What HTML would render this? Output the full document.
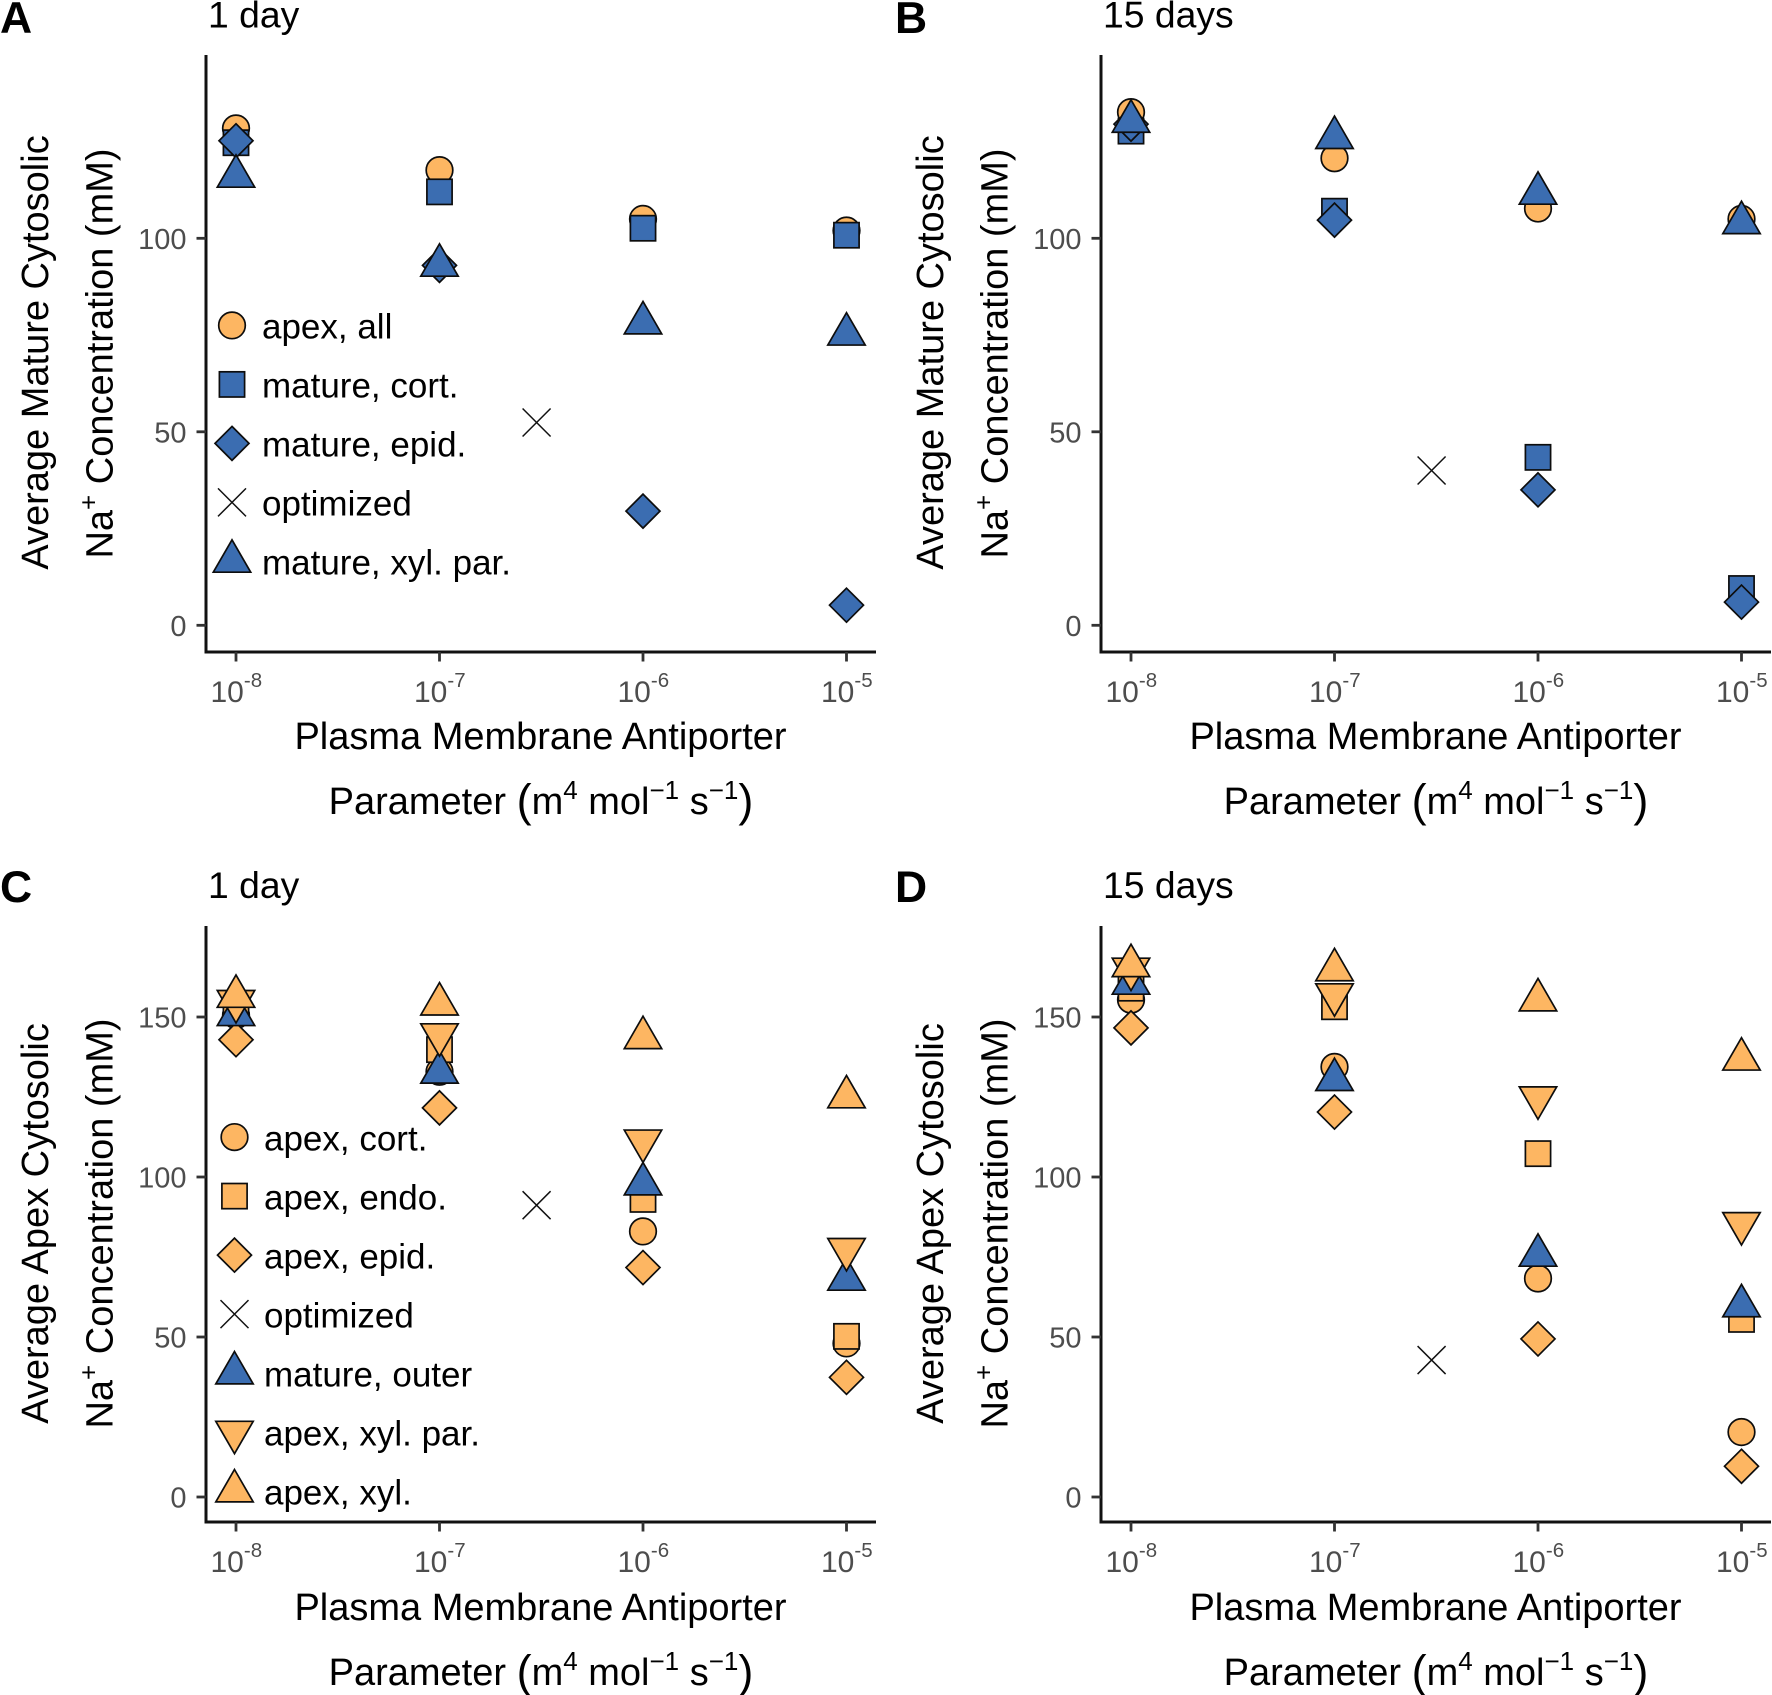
<!DOCTYPE html>
<html lang="en">
<head>
<meta charset="utf-8">
<title>Na+ concentration vs plasma membrane antiporter parameter</title>
<style>
html,body{margin:0;padding:0;background:#fff;width:1772px;height:1695px;overflow:hidden}
svg{display:block;font-family:"Liberation Sans",sans-serif}
.axt{font-size:38px;fill:#000}
.ttl{font-size:37.3px;fill:#000}
.let{font-size:44.5px;font-weight:700;fill:#000}
.paren{font-size:45px}
.sup{font-size:26px}
</style>
</head>
<body>
<svg id="chart" xmlns="http://www.w3.org/2000/svg" width="1772" height="1695" viewBox="0 0 1772 1695">
  <rect width="1772" height="1695" fill="#fff"/>

  <g id="panelA">
    <text class="let" x="0" y="33">A</text>
    <text class="ttl" x="208" y="27.5">1 day</text>
    <text class="axt" text-anchor="middle" transform="translate(48,352.5) rotate(-90)">Average Mature Cytosolic</text>
    <text class="axt" text-anchor="middle" transform="translate(112.5,353.5) rotate(-90)">Na<tspan class="sup" dy="-15">+</tspan><tspan dy="15"> Concentration (mM)</tspan></text>
    <text class="axt" text-anchor="middle" x="540.5" y="749">Plasma Membrane Antiporter</text>
    <text class="axt" text-anchor="middle" x="541" y="814">Parameter <tspan class="paren" dy="2">(</tspan><tspan dy="-2">m</tspan><tspan class="sup" dy="-15">4</tspan><tspan dy="15"> mol</tspan><tspan class="sup" dy="-15">−1</tspan><tspan dy="15"> s</tspan><tspan class="sup" dy="-15">−1</tspan><tspan class="paren" dy="17">)</tspan></text>
  </g>

  <g id="panelB">
    <text class="let" x="895" y="33">B</text>
    <text class="ttl" x="1103" y="27.5">15 days</text>
    <text class="axt" text-anchor="middle" transform="translate(943,352.5) rotate(-90)">Average Mature Cytosolic</text>
    <text class="axt" text-anchor="middle" transform="translate(1007.5,353.5) rotate(-90)">Na<tspan class="sup" dy="-15">+</tspan><tspan dy="15"> Concentration (mM)</tspan></text>
    <text class="axt" text-anchor="middle" x="1435.5" y="749">Plasma Membrane Antiporter</text>
    <text class="axt" text-anchor="middle" x="1436" y="814">Parameter <tspan class="paren" dy="2">(</tspan><tspan dy="-2">m</tspan><tspan class="sup" dy="-15">4</tspan><tspan dy="15"> mol</tspan><tspan class="sup" dy="-15">−1</tspan><tspan dy="15"> s</tspan><tspan class="sup" dy="-15">−1</tspan><tspan class="paren" dy="17">)</tspan></text>
  </g>

  <g id="panelC">
    <text class="let" x="0" y="902">C</text>
    <text class="ttl" x="208" y="898">1 day</text>
    <text class="axt" text-anchor="middle" transform="translate(48,1223.5) rotate(-90)">Average Apex Cytosolic</text>
    <text class="axt" text-anchor="middle" transform="translate(112.5,1223.5) rotate(-90)">Na<tspan class="sup" dy="-15">+</tspan><tspan dy="15"> Concentration (mM)</tspan></text>
    <text class="axt" text-anchor="middle" x="540.5" y="1620">Plasma Membrane Antiporter</text>
    <text class="axt" text-anchor="middle" x="541" y="1685">Parameter <tspan class="paren" dy="2">(</tspan><tspan dy="-2">m</tspan><tspan class="sup" dy="-15">4</tspan><tspan dy="15"> mol</tspan><tspan class="sup" dy="-15">−1</tspan><tspan dy="15"> s</tspan><tspan class="sup" dy="-15">−1</tspan><tspan class="paren" dy="17">)</tspan></text>
  </g>

  <g id="panelD">
    <text class="let" x="895" y="902">D</text>
    <text class="ttl" x="1103" y="898">15 days</text>
    <text class="axt" text-anchor="middle" transform="translate(943,1223.5) rotate(-90)">Average Apex Cytosolic</text>
    <text class="axt" text-anchor="middle" transform="translate(1007.5,1223.5) rotate(-90)">Na<tspan class="sup" dy="-15">+</tspan><tspan dy="15"> Concentration (mM)</tspan></text>
    <text class="axt" text-anchor="middle" x="1435.5" y="1620">Plasma Membrane Antiporter</text>
    <text class="axt" text-anchor="middle" x="1436" y="1685">Parameter <tspan class="paren" dy="2">(</tspan><tspan dy="-2">m</tspan><tspan class="sup" dy="-15">4</tspan><tspan dy="15"> mol</tspan><tspan class="sup" dy="-15">−1</tspan><tspan dy="15"> s</tspan><tspan class="sup" dy="-15">−1</tspan><tspan class="paren" dy="17">)</tspan></text>
  </g>
</svg>

<script>
// ---- shared axis data ----
const xTickExponents = [-8, -7, -6, -5];
const xCategories = [1e-8, 1e-7, 1e-6, 1e-5];
const optimizedParameter = [3e-7];
const yTicksMature = [0, 50, 100];
const yTicksApex = [0, 50, 100, 150];

// ---- panel A: 1 day, mature ----
const aApexAll = [128.4, 117.6, 105, 102];
const aMatureCort = [124.7, 112, 102.6, 100.8];
const aMatureEpid = [125.2, 93, 29.5, 5.2];
const aOptimized = [52.4];
const aMatureXylPar = [116, 93, 78.1, 75.2];

// ---- panel B: 15 days, mature ----
const bApexAll = [132.6, 120.7, 107.7, 105];
const bMatureCort = [127.7, 107, 43.4, 9.5];
const bMatureEpid = [129.5, 104.7, 35, 6];
const bOptimized = [40];
const bMatureXylPar = [130.2, 126, 111.6, 104];

// ---- panel C: 1 day, apex ----
const cApexCort = [150.6, 132.9, 83, 48];
const cApexEndo = [152, 139.8, 93, 50.2];
const cApexEpid = [142.9, 121.6, 71.7, 37.4];
const cOptimized = [91.2];
const cMatureOuter = [150.7, 132.7, 97.8, 68];
const cApexXylPar = [154.9, 144.5, 111.3, 77.4];
const cApexXyl = [156.4, 154, 143.5, 125];

// ---- panel D: 15 days, apex ----
const dApexCort = [155.4, 134.4, 68.3, 20.3];
const dApexEndo = [159, 153.2, 107.3, 55.5];
const dApexEpid = [146.6, 120.3, 49.4, 9.6];
const dOptimized = [42.8];
const dMatureOuter = [160.5, 130.4, 75.5, 59.7];
const dApexXylPar = [165, 157, 124.8, 85.5];
const dApexXyl = [166, 164.7, 155.3, 136.8];

// ---- legend labels ----
const legendLabelsMature = ['apex, all', 'mature, cort.', 'mature, epid.', 'optimized', 'mature, xyl. par.'];
const legendLabelsApex = ['apex, cort.', 'apex, endo.', 'apex, epid.', 'optimized', 'mature, outer', 'apex, xyl. par.', 'apex, xyl.'];

// ---- styling ----
const ORANGE = '#fdb662';
const BLUE = '#3b6db1';
const INK = '#111';
const NS = 'http://www.w3.org/2000/svg';

const matureStyle = [['circle', ORANGE], ['square', BLUE], ['diamond', BLUE], ['cross', 'none'], ['up', BLUE]];
const apexStyle = [['circle', ORANGE], ['square', ORANGE], ['diamond', ORANGE], ['cross', 'none'], ['up', BLUE], ['down', ORANGE], ['up', ORANGE]];

function make(tag, parent, attrs) {
  const el = document.createElementNS(NS, tag);
  for (const k in attrs) el.setAttribute(k, attrs[k]);
  parent.appendChild(el);
  return el;
}

function drawShape(parent, shape, cx, cy, fill, name) {
  let el;
  const common = { stroke: '#0d0d0d', 'stroke-width': 1.7, fill: fill, 'stroke-linejoin': 'miter' };
  if (shape === 'circle') {
    el = make('ellipse', parent, Object.assign({ cx: cx, cy: cy, rx: 13.3, ry: 13.3 }, common));
  } else if (shape === 'square') {
    el = make('rect', parent, Object.assign({ x: cx - 12.6, y: cy - 12.6, width: 25.2, height: 25.2 }, common));
  } else if (shape === 'diamond') {
    el = make('path', parent, Object.assign({ d: 'M' + cx + ' ' + (cy - 17) + 'L' + (cx + 17) + ' ' + cy + 'L' + cx + ' ' + (cy + 17) + 'L' + (cx - 17) + ' ' + cy + 'Z' }, common));
  } else if (shape === 'up') {
    el = make('path', parent, Object.assign({ d: 'M' + cx + ' ' + (cy - 21.6) + 'L' + (cx + 18.7) + ' ' + (cy + 10.8) + 'L' + (cx - 18.7) + ' ' + (cy + 10.8) + 'Z' }, common));
  } else if (shape === 'down') {
    el = make('path', parent, Object.assign({ d: 'M' + cx + ' ' + (cy + 21.6) + 'L' + (cx + 18.7) + ' ' + (cy - 10.8) + 'L' + (cx - 18.7) + ' ' + (cy - 10.8) + 'Z' }, common));
  } else {
    const r = 14;
    el = make('path', parent, { d: 'M' + (cx - r) + ' ' + (cy - r) + 'L' + (cx + r) + ' ' + (cy + r) + 'M' + (cx + r) + ' ' + (cy - r) + 'L' + (cx - r) + ' ' + (cy + r), stroke: '#111', 'stroke-width': 1.5, fill: 'none' });
  }
  
  
  return el;
}

function drawPanel(cfg) {
  const g = document.getElementById(cfg.id);
  const xScale = function (v) { return cfg.left + 30 + (Math.log10(v) + 8) * 203.5; };
  const yScale = function (v) { return cfg.zeroY - v * cfg.pxPerUnit; };

  // axis lines
  const yAxis = make('line', g, { x1: cfg.left, x2: cfg.left, y1: cfg.top, y2: cfg.bottom + 1.5, stroke: INK, 'stroke-width': 3 });
  
  
  const xAxis = make('line', g, { x1: cfg.left - 1.5, x2: cfg.left + 670, y1: cfg.bottom, y2: cfg.bottom, stroke: INK, 'stroke-width': 3 });
  
  

  // y ticks
  cfg.yTicks.forEach(function (t) {
    const y = yScale(t);
    const tick = make('line', g, { x1: cfg.left - 9.5, x2: cfg.left, y1: y, y2: y, stroke: '#333', 'stroke-width': 2.8 });
    
    
    const label = make('text', g, { x: cfg.left - 19.5, y: y + 10.6, 'text-anchor': 'end', 'font-size': 29, fill: '#4d4d4d' });
    label.textContent = String(t);
    
    
  });

  // x ticks
  xTickExponents.forEach(function (e, i) {
    const x = xScale(xCategories[i]);
    const tick = make('line', g, { x1: x, x2: x, y1: cfg.bottom, y2: cfg.bottom + 9.5, stroke: '#333', 'stroke-width': 2.8 });
    
    
    const label = make('text', g, { x: x - 25.5, y: cfg.bottom + 50, 'font-size': 30, fill: '#4d4d4d' });
    
    
    const base = make('tspan', label, {});
    base.textContent = '10';
    const sup = make('tspan', label, { dy: -15, 'font-size': 20.5 });
    sup.textContent = String(e);
  });

  // series, in legend order
  cfg.series.forEach(function (s) {
    const style = cfg.styles[s.styleIndex];
    s.values.forEach(function (v, i) {
      const param = s.params[i];
      drawShape(g, style[0], xScale(param), yScale(v), style[1], s.name);
    });
  });

  // legend
  if (cfg.legendLabels) {
    cfg.legendLabels.forEach(function (lbl, i) {
      const style = cfg.styles[i];
      const baseline = cfg.legendY + i * cfg.legendStep;
      drawShape(g, style[0], cfg.legendMarkerX, baseline - 13.2, style[1], 'legend-marker');
      const t = make('text', g, { x: cfg.legendTextX, y: baseline, 'font-size': 35, fill: '#000' });
      t.textContent = lbl;
      
      
    });
  }
}

drawPanel({
  id: 'panelA', left: 206, top: 55, bottom: 652, zeroY: 625.3, pxPerUnit: 3.87, yTicks: yTicksMature, styles: matureStyle,
  series: [
    { name: 'point-apex-all', styleIndex: 0, values: aApexAll, params: xCategories },
    { name: 'point-mature-cort', styleIndex: 1, values: aMatureCort, params: xCategories },
    { name: 'point-mature-epid', styleIndex: 2, values: aMatureEpid, params: xCategories },
    { name: 'point-optimized', styleIndex: 3, values: aOptimized, params: optimizedParameter },
    { name: 'point-mature-xyl-par', styleIndex: 4, values: aMatureXylPar, params: xCategories }
  ],
  legendLabels: legendLabelsMature, legendY: 338.6, legendStep: 59, legendMarkerX: 232, legendTextX: 262
});
drawPanel({
  id: 'panelB', left: 1101, top: 55, bottom: 652, zeroY: 625.3, pxPerUnit: 3.87, yTicks: yTicksMature, styles: matureStyle,
  series: [
    { name: 'point-apex-all', styleIndex: 0, values: bApexAll, params: xCategories },
    { name: 'point-mature-cort', styleIndex: 1, values: bMatureCort, params: xCategories },
    { name: 'point-mature-epid', styleIndex: 2, values: bMatureEpid, params: xCategories },
    { name: 'point-optimized', styleIndex: 3, values: bOptimized, params: optimizedParameter },
    { name: 'point-mature-xyl-par', styleIndex: 4, values: bMatureXylPar, params: xCategories }
  ]
});
drawPanel({
  id: 'panelC', left: 206, top: 926, bottom: 1522, zeroY: 1497, pxPerUnit: 3.2, yTicks: yTicksApex, styles: apexStyle,
  series: [
    { name: 'point-apex-cort', styleIndex: 0, values: cApexCort, params: xCategories },
    { name: 'point-apex-endo', styleIndex: 1, values: cApexEndo, params: xCategories },
    { name: 'point-apex-epid', styleIndex: 2, values: cApexEpid, params: xCategories },
    { name: 'point-optimized', styleIndex: 3, values: cOptimized, params: optimizedParameter },
    { name: 'point-mature-outer', styleIndex: 4, values: cMatureOuter, params: xCategories },
    { name: 'point-apex-xyl-par', styleIndex: 5, values: cApexXylPar, params: xCategories },
    { name: 'point-apex-xyl', styleIndex: 6, values: cApexXyl, params: xCategories }
  ],
  legendLabels: legendLabelsApex, legendY: 1150.3, legendStep: 59, legendMarkerX: 234.5, legendTextX: 264
});
drawPanel({
  id: 'panelD', left: 1101, top: 926, bottom: 1522, zeroY: 1497, pxPerUnit: 3.2, yTicks: yTicksApex, styles: apexStyle,
  series: [
    { name: 'point-apex-cort', styleIndex: 0, values: dApexCort, params: xCategories },
    { name: 'point-apex-endo', styleIndex: 1, values: dApexEndo, params: xCategories },
    { name: 'point-apex-epid', styleIndex: 2, values: dApexEpid, params: xCategories },
    { name: 'point-optimized', styleIndex: 3, values: dOptimized, params: optimizedParameter },
    { name: 'point-mature-outer', styleIndex: 4, values: dMatureOuter, params: xCategories },
    { name: 'point-apex-xyl-par', styleIndex: 5, values: dApexXylPar, params: xCategories },
    { name: 'point-apex-xyl', styleIndex: 6, values: dApexXyl, params: xCategories }
  ]
});
</script>
</body>
</html>
